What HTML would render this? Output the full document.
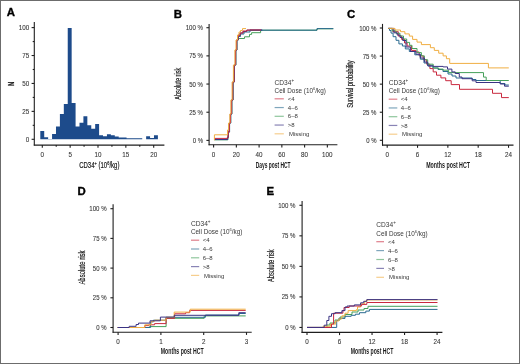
<!DOCTYPE html><html><head><meta charset="utf-8"><style>html,body{margin:0;padding:0;background:#fff;}svg{display:block;will-change:transform;}text{font-family:"Liberation Sans",sans-serif;}</style></head><body>
<svg width="520" height="364" viewBox="0 0 520 364">
<rect x="0" y="0" width="520" height="364" fill="#fff"/>
<rect x="0.5" y="0.5" width="519" height="363" fill="none" stroke="#6c6c6c" stroke-width="1"/>
<text x="6.8" y="15.8" font-size="11.4" text-anchor="start" font-weight="bold" fill="#000" stroke="#000" stroke-width="0.35">A</text>
<text x="173.8" y="17.5" font-size="11.4" text-anchor="start" font-weight="bold" fill="#000" stroke="#000" stroke-width="0.35">B</text>
<text x="346.9" y="17.6" font-size="11.4" text-anchor="start" font-weight="bold" fill="#000" stroke="#000" stroke-width="0.35">C</text>
<text x="77.5" y="195.2" font-size="11.4" text-anchor="start" font-weight="bold" fill="#000" stroke="#000" stroke-width="0.35">D</text>
<text x="266.6" y="195.0" font-size="11.4" text-anchor="start" font-weight="bold" fill="#000" stroke="#000" stroke-width="0.35">E</text>
<line x1="34.3" y1="22" x2="34.3" y2="145.6" stroke="#1e1e1e" stroke-width="1.1"/>
<line x1="33.8" y1="145.1" x2="164.4" y2="145.1" stroke="#1e1e1e" stroke-width="1.1"/>
<line x1="31.599999999999998" y1="139.3" x2="34.3" y2="139.3" stroke="#1e1e1e" stroke-width="1.1"/>
<text x="29.3" y="141.8" font-size="7" text-anchor="end" font-weight="normal" fill="#333333" textLength="3.5" lengthAdjust="spacingAndGlyphs" stroke="#333" stroke-width="0.08">0</text>
<line x1="31.599999999999998" y1="111.375" x2="34.3" y2="111.375" stroke="#1e1e1e" stroke-width="1.1"/>
<text x="29.3" y="113.875" font-size="7" text-anchor="end" font-weight="normal" fill="#333333" textLength="7.0" lengthAdjust="spacingAndGlyphs" stroke="#333" stroke-width="0.08">25</text>
<line x1="31.599999999999998" y1="83.45" x2="34.3" y2="83.45" stroke="#1e1e1e" stroke-width="1.1"/>
<text x="29.3" y="85.95" font-size="7" text-anchor="end" font-weight="normal" fill="#333333" textLength="7.0" lengthAdjust="spacingAndGlyphs" stroke="#333" stroke-width="0.08">50</text>
<line x1="31.599999999999998" y1="55.52499999999999" x2="34.3" y2="55.52499999999999" stroke="#1e1e1e" stroke-width="1.1"/>
<text x="29.3" y="58.02499999999999" font-size="7" text-anchor="end" font-weight="normal" fill="#333333" textLength="7.0" lengthAdjust="spacingAndGlyphs" stroke="#333" stroke-width="0.08">75</text>
<line x1="31.599999999999998" y1="27.599999999999994" x2="34.3" y2="27.599999999999994" stroke="#1e1e1e" stroke-width="1.1"/>
<text x="29.3" y="30.099999999999994" font-size="7" text-anchor="end" font-weight="normal" fill="#333333" textLength="10.5" lengthAdjust="spacingAndGlyphs" stroke="#333" stroke-width="0.08">100</text>
<line x1="32.699999999999996" y1="125.3375" x2="34.3" y2="125.3375" stroke="#1e1e1e" stroke-width="1.1"/>
<line x1="32.699999999999996" y1="97.4125" x2="34.3" y2="97.4125" stroke="#1e1e1e" stroke-width="1.1"/>
<line x1="32.699999999999996" y1="69.4875" x2="34.3" y2="69.4875" stroke="#1e1e1e" stroke-width="1.1"/>
<line x1="32.699999999999996" y1="41.5625" x2="34.3" y2="41.5625" stroke="#1e1e1e" stroke-width="1.1"/>
<line x1="42.3" y1="145.1" x2="42.3" y2="147.79999999999998" stroke="#1e1e1e" stroke-width="1.1"/>
<text x="42.3" y="156.9" font-size="7" text-anchor="middle" font-weight="normal" fill="#333333" textLength="3.5" lengthAdjust="spacingAndGlyphs" stroke="#333" stroke-width="0.08">0</text>
<line x1="70.15" y1="145.1" x2="70.15" y2="147.79999999999998" stroke="#1e1e1e" stroke-width="1.1"/>
<text x="70.15" y="156.9" font-size="7" text-anchor="middle" font-weight="normal" fill="#333333" textLength="3.5" lengthAdjust="spacingAndGlyphs" stroke="#333" stroke-width="0.08">5</text>
<line x1="98.0" y1="145.1" x2="98.0" y2="147.79999999999998" stroke="#1e1e1e" stroke-width="1.1"/>
<text x="98.0" y="156.9" font-size="7" text-anchor="middle" font-weight="normal" fill="#333333" textLength="7.0" lengthAdjust="spacingAndGlyphs" stroke="#333" stroke-width="0.08">10</text>
<line x1="125.85000000000001" y1="145.1" x2="125.85000000000001" y2="147.79999999999998" stroke="#1e1e1e" stroke-width="1.1"/>
<text x="125.85000000000001" y="156.9" font-size="7" text-anchor="middle" font-weight="normal" fill="#333333" textLength="7.0" lengthAdjust="spacingAndGlyphs" stroke="#333" stroke-width="0.08">15</text>
<line x1="153.7" y1="145.1" x2="153.7" y2="147.79999999999998" stroke="#1e1e1e" stroke-width="1.1"/>
<text x="153.7" y="156.9" font-size="7" text-anchor="middle" font-weight="normal" fill="#333333" textLength="7.0" lengthAdjust="spacingAndGlyphs" stroke="#333" stroke-width="0.08">20</text>
<line x1="56.224999999999994" y1="145.1" x2="56.224999999999994" y2="146.7" stroke="#1e1e1e" stroke-width="1.1"/>
<line x1="84.075" y1="145.1" x2="84.075" y2="146.7" stroke="#1e1e1e" stroke-width="1.1"/>
<line x1="111.925" y1="145.1" x2="111.925" y2="146.7" stroke="#1e1e1e" stroke-width="1.1"/>
<line x1="139.775" y1="145.1" x2="139.775" y2="146.7" stroke="#1e1e1e" stroke-width="1.1"/>
<path d="M40.30,139.30 L40.30,130.90 L44.22,130.90 L44.22,137.30 L48.14,137.30 L48.14,138.90 L52.06,138.90 L52.06,134.00 L55.98,134.00 L55.98,126.60 L59.90,126.60 L59.90,114.10 L63.82,114.10 L63.82,104.00 L67.74,104.00 L67.74,28.00 L71.66,28.00 L71.66,103.00 L75.58,103.00 L75.58,126.60 L79.50,126.60 L79.50,122.70 L83.42,122.70 L83.42,116.30 L87.34,116.30 L87.34,125.30 L91.26,125.30 L91.26,128.80 L95.18,128.80 L95.18,124.10 L99.10,124.10 L99.10,135.30 L103.02,135.30 L103.02,136.20 L106.94,136.20 L106.94,134.20 L110.86,134.20 L110.86,135.30 L114.78,135.30 L114.78,136.50 L118.70,136.50 L118.70,137.60 L122.62,137.60 L122.62,137.60 L126.54,137.60 L126.54,138.30 L130.46,138.30 L130.46,138.30 L134.38,138.30 L134.38,138.30 L138.30,138.30 L138.30,138.30 L142.22,138.30 L142.22,139.30 Z" fill="#1d4b8b"/>
<path d="M146.14,139.30 L146.14,136.20 L150.06,136.20 L150.06,138.00 L153.98,138.00 L153.98,135.30 L157.90,135.30 L157.90,139.30 Z" fill="#1d4b8b"/>
<text transform="translate(14.1,83.75) rotate(-90)" x="0" y="0" font-size="8.8" text-anchor="middle" font-weight="bold" fill="#1a1a1a" stroke="#1a1a1a" stroke-width="0.2" textLength="4.3" lengthAdjust="spacingAndGlyphs">N</text>
<text x="79.2" y="167.7" font-size="8.6" text-anchor="start" font-weight="normal" fill="#1a1a1a" textLength="40.2" lengthAdjust="spacingAndGlyphs" stroke="#1a1a1a" stroke-width="0.2">CD34<tspan font-size="5.6" dy="-3.2">+</tspan><tspan dy="3.2"> (10</tspan><tspan font-size="5.6" dy="-3.2">6</tspan><tspan dy="3.2">/kg)</tspan></text>
<line x1="209.1" y1="23.9" x2="209.1" y2="145.3" stroke="#1e1e1e" stroke-width="1.1"/>
<line x1="208.6" y1="144.8" x2="337.4" y2="144.8" stroke="#1e1e1e" stroke-width="1.1"/>
<line x1="206.4" y1="140.4" x2="209.1" y2="140.4" stroke="#1e1e1e" stroke-width="1.1"/>
<text x="203" y="142.9" font-size="7" text-anchor="end" font-weight="normal" fill="#333333" textLength="10.3" lengthAdjust="spacingAndGlyphs" stroke="#333" stroke-width="0.08">0 %</text>
<line x1="206.4" y1="112.22500000000001" x2="209.1" y2="112.22500000000001" stroke="#1e1e1e" stroke-width="1.1"/>
<text x="203" y="114.72500000000001" font-size="7" text-anchor="end" font-weight="normal" fill="#333333" textLength="13.8" lengthAdjust="spacingAndGlyphs" stroke="#333" stroke-width="0.08">25 %</text>
<line x1="206.4" y1="84.05000000000001" x2="209.1" y2="84.05000000000001" stroke="#1e1e1e" stroke-width="1.1"/>
<text x="203" y="86.55000000000001" font-size="7" text-anchor="end" font-weight="normal" fill="#333333" textLength="13.8" lengthAdjust="spacingAndGlyphs" stroke="#333" stroke-width="0.08">50 %</text>
<line x1="206.4" y1="55.875" x2="209.1" y2="55.875" stroke="#1e1e1e" stroke-width="1.1"/>
<text x="203" y="58.375" font-size="7" text-anchor="end" font-weight="normal" fill="#333333" textLength="13.8" lengthAdjust="spacingAndGlyphs" stroke="#333" stroke-width="0.08">75 %</text>
<line x1="206.4" y1="27.700000000000003" x2="209.1" y2="27.700000000000003" stroke="#1e1e1e" stroke-width="1.1"/>
<text x="203" y="30.200000000000003" font-size="7" text-anchor="end" font-weight="normal" fill="#333333" textLength="17.3" lengthAdjust="spacingAndGlyphs" stroke="#333" stroke-width="0.08">100 %</text>
<line x1="213.6" y1="144.8" x2="213.6" y2="147.5" stroke="#1e1e1e" stroke-width="1.1"/>
<text x="213.6" y="156.6" font-size="7" text-anchor="middle" font-weight="normal" fill="#333333" textLength="3.5" lengthAdjust="spacingAndGlyphs" stroke="#333" stroke-width="0.08">0</text>
<line x1="236.35" y1="144.8" x2="236.35" y2="147.5" stroke="#1e1e1e" stroke-width="1.1"/>
<text x="236.35" y="156.6" font-size="7" text-anchor="middle" font-weight="normal" fill="#333333" textLength="7.0" lengthAdjust="spacingAndGlyphs" stroke="#333" stroke-width="0.08">20</text>
<line x1="259.1" y1="144.8" x2="259.1" y2="147.5" stroke="#1e1e1e" stroke-width="1.1"/>
<text x="259.1" y="156.6" font-size="7" text-anchor="middle" font-weight="normal" fill="#333333" textLength="7.0" lengthAdjust="spacingAndGlyphs" stroke="#333" stroke-width="0.08">40</text>
<line x1="281.85" y1="144.8" x2="281.85" y2="147.5" stroke="#1e1e1e" stroke-width="1.1"/>
<text x="281.85" y="156.6" font-size="7" text-anchor="middle" font-weight="normal" fill="#333333" textLength="7.0" lengthAdjust="spacingAndGlyphs" stroke="#333" stroke-width="0.08">60</text>
<line x1="304.6" y1="144.8" x2="304.6" y2="147.5" stroke="#1e1e1e" stroke-width="1.1"/>
<text x="304.6" y="156.6" font-size="7" text-anchor="middle" font-weight="normal" fill="#333333" textLength="7.0" lengthAdjust="spacingAndGlyphs" stroke="#333" stroke-width="0.08">80</text>
<line x1="327.35" y1="144.8" x2="327.35" y2="147.5" stroke="#1e1e1e" stroke-width="1.1"/>
<text x="327.35" y="156.6" font-size="7" text-anchor="middle" font-weight="normal" fill="#333333" textLength="10.5" lengthAdjust="spacingAndGlyphs" stroke="#333" stroke-width="0.08">100</text>
<text transform="translate(181.0,83.75) rotate(-90)" x="0" y="0" font-size="8.8" text-anchor="middle" font-weight="normal" fill="#1a1a1a" stroke="#1a1a1a" stroke-width="0.2" textLength="31.9" lengthAdjust="spacingAndGlyphs">Absolute risk</text>
<text x="255.8" y="167.6" font-size="8.4" text-anchor="start" font-weight="bold" fill="#1a1a1a" textLength="34.7" lengthAdjust="spacingAndGlyphs" >Days post HCT</text>
<path d="M214.40,139.80 L227.75,139.80 L227.75,137.30 L228.35,137.30 L228.35,132.00 L229.45,132.00 L229.45,123.00 L230.65,123.00 L230.65,114.00 L231.75,114.00 L231.75,100.00 L232.95,100.00 L232.95,82.00 L234.25,82.00 L234.25,65.00 L235.75,65.00 L235.75,50.00 L236.85,50.00 L236.85,40.00 L238.20,40.00 L238.20,38.50 L244.50,38.50 L244.50,36.80 L249.50,36.80 L249.50,34.40 L251.60,34.40 L251.60,32.70 L260.60,32.70 L260.60,30.20 L317.00,30.20 L317.00,28.80 L333.30,28.80" fill="none" stroke="#45a05a" stroke-width="1.0" stroke-linejoin="miter"/>
<path d="M214.40,139.60 L227.90,139.60 L227.90,137.30 L228.50,137.30 L228.50,132.00 L229.60,132.00 L229.60,123.00 L230.80,123.00 L230.80,114.00 L231.90,114.00 L231.90,100.00 L233.10,100.00 L233.10,82.00 L234.40,82.00 L234.40,65.00 L235.90,65.00 L235.90,50.00 L237.00,50.00 L237.00,40.00 L238.50,40.00 L238.50,36.50 L240.50,36.50 L240.50,34.00 L244.00,34.00 L244.00,32.00 L250.00,32.00 L250.00,30.50 L262.30,30.50 L262.30,30.20 L317.00,30.20 L317.00,28.60 L333.30,28.60" fill="none" stroke="#2a6a90" stroke-width="1.0" stroke-linejoin="miter"/>
<path d="M214.40,139.40 L227.40,139.40 L227.40,137.30 L228.00,137.30 L228.00,132.00 L229.10,132.00 L229.10,123.00 L230.30,123.00 L230.30,114.00 L231.40,114.00 L231.40,100.00 L232.60,100.00 L232.60,82.00 L233.90,82.00 L233.90,65.00 L235.40,65.00 L235.40,50.00 L236.50,50.00 L236.50,40.00 L238.00,40.00 L238.00,35.00 L240.00,35.00 L240.00,33.00 L243.00,33.00 L243.00,31.50 L246.60,31.50 L246.60,30.20 L250.00,30.20 L250.00,29.80 L262.30,29.80" fill="none" stroke="#3a3283" stroke-width="1.0" stroke-linejoin="miter"/>
<path d="M214.40,138.40 L227.60,138.40 L227.60,137.30 L228.20,137.30 L228.20,132.00 L229.30,132.00 L229.30,123.00 L230.50,123.00 L230.50,114.00 L231.60,114.00 L231.60,100.00 L232.80,100.00 L232.80,82.00 L234.10,82.00 L234.10,65.00 L235.60,65.00 L235.60,50.00 L236.70,50.00 L236.70,40.00 L238.00,40.00 L238.00,35.50 L240.00,35.50 L240.00,33.00 L243.00,33.00 L243.00,31.00 L247.00,31.00 L247.00,30.00 L261.00,30.00" fill="none" stroke="#c9283e" stroke-width="1.0" stroke-linejoin="miter"/>
<path d="M214.40,140.30 L214.40,140.30 L214.40,134.80 L227.30,134.80 L227.50,134.80 L227.50,130.00 L228.60,130.00 L228.60,123.00 L229.80,123.00 L229.80,114.00 L230.90,114.00 L230.90,100.00 L232.10,100.00 L232.10,82.00 L233.40,82.00 L233.40,65.00 L234.90,65.00 L234.90,50.00 L236.00,50.00 L236.00,40.00 L237.50,40.00 L237.50,35.00 L239.00,35.00 L239.00,32.00 L240.50,32.00 L240.50,30.50 L242.50,30.50 L242.50,28.60 L246.00,28.60" fill="none" stroke="#f0ae42" stroke-width="1.0" stroke-linejoin="miter"/>
<text x="274.6" y="84.5" font-size="6.6" text-anchor="start" font-weight="normal" fill="#383838" >CD34<tspan font-size="4.6" dy="-3.0">+</tspan></text>
<text x="274.6" y="92.6" font-size="6.6" text-anchor="start" font-weight="normal" fill="#383838" textLength="51.3" lengthAdjust="spacingAndGlyphs" >Cell Dose (10<tspan font-size="4.2" dy="-2.6">6</tspan><tspan dy="2.6">/kg)</tspan></text>
<line x1="274.6" y1="98.8" x2="283.8" y2="98.8" stroke="#c9283e" stroke-width="1.2" stroke-opacity="0.6"/>
<text x="287.8" y="100.89999999999999" font-size="6.0" text-anchor="start" font-weight="normal" fill="#383838" >&lt;4</text>
<line x1="274.6" y1="107.55" x2="283.8" y2="107.55" stroke="#2a6a90" stroke-width="1.2" stroke-opacity="0.6"/>
<text x="287.8" y="109.64999999999999" font-size="6.0" text-anchor="start" font-weight="normal" fill="#383838" >4–6</text>
<line x1="274.6" y1="116.3" x2="283.8" y2="116.3" stroke="#45a05a" stroke-width="1.2" stroke-opacity="0.6"/>
<text x="287.8" y="118.39999999999999" font-size="6.0" text-anchor="start" font-weight="normal" fill="#383838" >6–8</text>
<line x1="274.6" y1="125.05" x2="283.8" y2="125.05" stroke="#3a3283" stroke-width="1.2" stroke-opacity="0.6"/>
<text x="287.8" y="127.14999999999999" font-size="6.0" text-anchor="start" font-weight="normal" fill="#383838" >&gt;8</text>
<line x1="274.6" y1="133.8" x2="283.8" y2="133.8" stroke="#f0ae42" stroke-width="1.2" stroke-opacity="0.6"/>
<text x="289.0" y="135.9" font-size="6.0" text-anchor="start" font-weight="normal" fill="#383838" >Missing</text>
<line x1="382.5" y1="23.9" x2="382.5" y2="145.6" stroke="#1e1e1e" stroke-width="1.1"/>
<line x1="382.0" y1="145.1" x2="513.5" y2="145.1" stroke="#1e1e1e" stroke-width="1.1"/>
<line x1="379.8" y1="140.3" x2="382.5" y2="140.3" stroke="#1e1e1e" stroke-width="1.1"/>
<text x="376.5" y="142.8" font-size="7" text-anchor="end" font-weight="normal" fill="#333333" textLength="10.3" lengthAdjust="spacingAndGlyphs" stroke="#333" stroke-width="0.08">0 %</text>
<line x1="379.8" y1="112.22500000000001" x2="382.5" y2="112.22500000000001" stroke="#1e1e1e" stroke-width="1.1"/>
<text x="376.5" y="114.72500000000001" font-size="7" text-anchor="end" font-weight="normal" fill="#333333" textLength="13.8" lengthAdjust="spacingAndGlyphs" stroke="#333" stroke-width="0.08">25 %</text>
<line x1="379.8" y1="84.15" x2="382.5" y2="84.15" stroke="#1e1e1e" stroke-width="1.1"/>
<text x="376.5" y="86.65" font-size="7" text-anchor="end" font-weight="normal" fill="#333333" textLength="13.8" lengthAdjust="spacingAndGlyphs" stroke="#333" stroke-width="0.08">50 %</text>
<line x1="379.8" y1="56.07500000000002" x2="382.5" y2="56.07500000000002" stroke="#1e1e1e" stroke-width="1.1"/>
<text x="376.5" y="58.57500000000002" font-size="7" text-anchor="end" font-weight="normal" fill="#333333" textLength="13.8" lengthAdjust="spacingAndGlyphs" stroke="#333" stroke-width="0.08">75 %</text>
<line x1="379.8" y1="28.0" x2="382.5" y2="28.0" stroke="#1e1e1e" stroke-width="1.1"/>
<text x="376.5" y="30.5" font-size="7" text-anchor="end" font-weight="normal" fill="#333333" textLength="17.3" lengthAdjust="spacingAndGlyphs" stroke="#333" stroke-width="0.08">100 %</text>
<line x1="387.2" y1="145.1" x2="387.2" y2="147.79999999999998" stroke="#1e1e1e" stroke-width="1.1"/>
<text x="387.2" y="156.7" font-size="7" text-anchor="middle" font-weight="normal" fill="#333333" textLength="3.5" lengthAdjust="spacingAndGlyphs" stroke="#333" stroke-width="0.08">0</text>
<line x1="417.53" y1="145.1" x2="417.53" y2="147.79999999999998" stroke="#1e1e1e" stroke-width="1.1"/>
<text x="417.53" y="156.7" font-size="7" text-anchor="middle" font-weight="normal" fill="#333333" textLength="3.5" lengthAdjust="spacingAndGlyphs" stroke="#333" stroke-width="0.08">6</text>
<line x1="447.86" y1="145.1" x2="447.86" y2="147.79999999999998" stroke="#1e1e1e" stroke-width="1.1"/>
<text x="447.86" y="156.7" font-size="7" text-anchor="middle" font-weight="normal" fill="#333333" textLength="7.0" lengthAdjust="spacingAndGlyphs" stroke="#333" stroke-width="0.08">12</text>
<line x1="478.19" y1="145.1" x2="478.19" y2="147.79999999999998" stroke="#1e1e1e" stroke-width="1.1"/>
<text x="478.19" y="156.7" font-size="7" text-anchor="middle" font-weight="normal" fill="#333333" textLength="7.0" lengthAdjust="spacingAndGlyphs" stroke="#333" stroke-width="0.08">18</text>
<line x1="508.52" y1="145.1" x2="508.52" y2="147.79999999999998" stroke="#1e1e1e" stroke-width="1.1"/>
<text x="508.52" y="156.7" font-size="7" text-anchor="middle" font-weight="normal" fill="#333333" textLength="7.0" lengthAdjust="spacingAndGlyphs" stroke="#333" stroke-width="0.08">24</text>
<text transform="translate(353.4,84.1) rotate(-90)" x="0" y="0" font-size="8.4" text-anchor="middle" font-weight="normal" fill="#1a1a1a" stroke="#1a1a1a" stroke-width="0.2" textLength="47.5" lengthAdjust="spacingAndGlyphs">Survival probability</text>
<text x="426.2" y="167.5" font-size="8.6" text-anchor="start" font-weight="bold" fill="#1a1a1a" textLength="43.8" lengthAdjust="spacingAndGlyphs" >Months post HCT</text>
<path d="M388.40,28.40 L392.80,28.40 L392.80,31.70 L398.30,31.70 L398.30,36.10 L401.60,36.10 L401.60,39.40 L404.50,39.40 L404.50,43.00 L407.10,43.00 L407.10,46.00 L411.50,46.00 L411.50,50.40 L415.90,50.40 L415.90,52.00 L419.20,52.00 L419.20,55.90 L423.30,55.90 L423.30,59.80 L426.60,59.80 L426.60,64.20 L429.90,64.20 L429.90,68.60 L433.20,68.60 L433.20,71.90 L436.50,71.90 L436.50,75.20 L440.90,75.20 L440.90,77.90 L445.70,77.90 L445.70,80.70 L451.20,80.70 L451.20,84.60 L459.50,84.60 L459.50,89.30 L492.50,89.30 L492.50,93.30 L501.50,93.30 L501.50,97.60 L508.80,97.60" fill="none" stroke="#c9283e" stroke-width="1.0" stroke-linejoin="miter"/>
<path d="M388.40,28.40 L389.50,28.40 L389.50,30.50 L391.00,30.50 L391.00,33.10 L393.10,33.10 L393.10,36.70 L396.00,36.70 L396.00,40.30 L398.90,40.30 L398.90,43.90 L402.40,43.90 L402.40,46.00 L405.30,46.00 L405.30,48.90 L409.30,48.90 L409.30,51.50 L414.80,51.50 L414.80,54.80 L420.30,54.80 L420.30,59.20 L424.00,59.20 L424.00,63.00 L428.00,63.00 L428.00,66.00 L433.00,66.00 L433.00,68.00 L438.00,68.00 L438.00,69.50 L443.00,69.50 L443.00,71.50 L448.00,71.50 L448.00,74.00 L452.00,74.00 L452.00,76.00 L456.00,76.00 L456.00,78.00 L472.20,78.00 L472.20,79.50 L476.00,79.50 L476.00,80.50 L500.20,80.50 L500.20,83.50 L505.00,83.50 L505.00,85.00 L508.80,85.00" fill="none" stroke="#2a6a90" stroke-width="1.0" stroke-linejoin="miter"/>
<path d="M388.40,28.40 L392.00,28.40 L392.00,30.80 L396.00,30.80 L396.00,33.30 L400.00,33.30 L400.00,36.00 L403.50,36.00 L403.50,39.00 L406.70,39.00 L406.70,42.40 L409.60,42.40 L409.60,45.30 L412.00,45.30 L412.00,48.50 L417.00,48.50 L417.00,52.60 L421.40,52.60 L421.40,55.90 L424.40,55.90 L424.40,59.80 L427.70,59.80 L427.70,64.20 L433.20,64.20 L433.20,68.00 L438.70,68.00 L438.70,69.10 L443.10,69.10 L443.10,70.20 L448.60,70.20 L448.60,72.60 L483.50,72.60 L483.50,77.10 L486.20,77.10 L486.20,80.50 L508.80,80.50" fill="none" stroke="#45a05a" stroke-width="1.0" stroke-linejoin="miter"/>
<path d="M388.40,28.40 L393.90,28.40 L393.90,32.80 L397.20,32.80 L397.20,35.00 L400.00,35.00 L400.00,37.50 L402.70,37.50 L402.70,40.50 L406.00,40.50 L406.00,47.00 L410.40,47.00 L410.40,51.50 L415.90,51.50 L415.90,54.20 L420.30,54.20 L420.30,58.00 L424.40,58.00 L424.40,62.00 L427.70,62.00 L427.70,65.80 L433.20,65.80 L433.20,66.40 L443.10,66.40 L443.10,66.90 L447.50,66.90 L447.50,69.10 L451.90,69.10 L451.90,71.90 L455.20,71.90 L455.20,73.50 L459.30,73.50 L459.30,77.00 L462.00,77.00 L462.00,78.70 L472.20,78.70 L472.20,80.80 L476.00,80.80 L476.00,82.50 L500.20,82.50 L500.20,84.00 L504.50,84.00 L504.50,86.20 L508.80,86.20" fill="none" stroke="#3a3283" stroke-width="1.0" stroke-linejoin="miter"/>
<path d="M388.40,28.40 L395.00,28.40 L395.00,30.00 L400.50,30.00 L400.50,31.70 L404.90,31.70 L404.90,33.90 L409.30,33.90 L409.30,36.10 L412.60,36.10 L412.60,39.40 L417.00,39.40 L417.00,42.10 L421.40,42.10 L421.40,44.60 L430.40,44.60 L430.40,47.70 L434.30,47.70 L434.30,50.40 L438.70,50.40 L438.70,53.20 L443.10,53.20 L443.10,55.90 L446.40,55.90 L446.40,58.70 L449.70,58.70 L449.70,63.40 L488.40,63.40 L488.40,67.90 L508.80,67.90" fill="none" stroke="#f0ae42" stroke-width="1.0" stroke-linejoin="miter"/>
<text x="388.7" y="84.9" font-size="6.6" text-anchor="start" font-weight="normal" fill="#383838" >CD34<tspan font-size="4.6" dy="-3.0">+</tspan></text>
<text x="388.7" y="93.0" font-size="6.6" text-anchor="start" font-weight="normal" fill="#383838" textLength="51.3" lengthAdjust="spacingAndGlyphs" >Cell Dose (10<tspan font-size="4.2" dy="-2.6">6</tspan><tspan dy="2.6">/kg)</tspan></text>
<line x1="388.7" y1="99.2" x2="397.3" y2="99.2" stroke="#c9283e" stroke-width="1.2" stroke-opacity="0.6"/>
<text x="400.8" y="101.3" font-size="6.0" text-anchor="start" font-weight="normal" fill="#383838" >&lt;4</text>
<line x1="388.7" y1="107.95" x2="397.3" y2="107.95" stroke="#2a6a90" stroke-width="1.2" stroke-opacity="0.6"/>
<text x="400.8" y="110.05" font-size="6.0" text-anchor="start" font-weight="normal" fill="#383838" >4–6</text>
<line x1="388.7" y1="116.7" x2="397.3" y2="116.7" stroke="#45a05a" stroke-width="1.2" stroke-opacity="0.6"/>
<text x="400.8" y="118.8" font-size="6.0" text-anchor="start" font-weight="normal" fill="#383838" >6–8</text>
<line x1="388.7" y1="125.45" x2="397.3" y2="125.45" stroke="#3a3283" stroke-width="1.2" stroke-opacity="0.6"/>
<text x="400.8" y="127.55" font-size="6.0" text-anchor="start" font-weight="normal" fill="#383838" >&gt;8</text>
<line x1="388.7" y1="134.2" x2="397.3" y2="134.2" stroke="#f0ae42" stroke-width="1.2" stroke-opacity="0.6"/>
<text x="402.0" y="136.29999999999998" font-size="6.0" text-anchor="start" font-weight="normal" fill="#383838" >Missing</text>
<line x1="113.1" y1="204.2" x2="113.1" y2="332.7" stroke="#1e1e1e" stroke-width="1.1"/>
<line x1="112.6" y1="332.2" x2="251.7" y2="332.2" stroke="#1e1e1e" stroke-width="1.1"/>
<line x1="110.39999999999999" y1="327.5" x2="113.1" y2="327.5" stroke="#1e1e1e" stroke-width="1.1"/>
<text x="106.6" y="330.0" font-size="7" text-anchor="end" font-weight="normal" fill="#333333" textLength="10.3" lengthAdjust="spacingAndGlyphs" stroke="#333" stroke-width="0.08">0 %</text>
<line x1="110.39999999999999" y1="297.8" x2="113.1" y2="297.8" stroke="#1e1e1e" stroke-width="1.1"/>
<text x="106.6" y="300.3" font-size="7" text-anchor="end" font-weight="normal" fill="#333333" textLength="13.8" lengthAdjust="spacingAndGlyphs" stroke="#333" stroke-width="0.08">25 %</text>
<line x1="110.39999999999999" y1="268.1" x2="113.1" y2="268.1" stroke="#1e1e1e" stroke-width="1.1"/>
<text x="106.6" y="270.6" font-size="7" text-anchor="end" font-weight="normal" fill="#333333" textLength="13.8" lengthAdjust="spacingAndGlyphs" stroke="#333" stroke-width="0.08">50 %</text>
<line x1="110.39999999999999" y1="238.4" x2="113.1" y2="238.4" stroke="#1e1e1e" stroke-width="1.1"/>
<text x="106.6" y="240.9" font-size="7" text-anchor="end" font-weight="normal" fill="#333333" textLength="13.8" lengthAdjust="spacingAndGlyphs" stroke="#333" stroke-width="0.08">75 %</text>
<line x1="110.39999999999999" y1="208.7" x2="113.1" y2="208.7" stroke="#1e1e1e" stroke-width="1.1"/>
<text x="106.6" y="211.2" font-size="7" text-anchor="end" font-weight="normal" fill="#333333" textLength="17.3" lengthAdjust="spacingAndGlyphs" stroke="#333" stroke-width="0.08">100 %</text>
<line x1="118.1" y1="332.2" x2="118.1" y2="334.9" stroke="#1e1e1e" stroke-width="1.1"/>
<text x="118.1" y="343.8" font-size="7" text-anchor="middle" font-weight="normal" fill="#333333" textLength="3.5" lengthAdjust="spacingAndGlyphs" stroke="#333" stroke-width="0.08">0</text>
<line x1="160.89999999999998" y1="332.2" x2="160.89999999999998" y2="334.9" stroke="#1e1e1e" stroke-width="1.1"/>
<text x="160.89999999999998" y="343.8" font-size="7" text-anchor="middle" font-weight="normal" fill="#333333" textLength="3.5" lengthAdjust="spacingAndGlyphs" stroke="#333" stroke-width="0.08">1</text>
<line x1="203.7" y1="332.2" x2="203.7" y2="334.9" stroke="#1e1e1e" stroke-width="1.1"/>
<text x="203.7" y="343.8" font-size="7" text-anchor="middle" font-weight="normal" fill="#333333" textLength="3.5" lengthAdjust="spacingAndGlyphs" stroke="#333" stroke-width="0.08">2</text>
<line x1="246.49999999999997" y1="332.2" x2="246.49999999999997" y2="334.9" stroke="#1e1e1e" stroke-width="1.1"/>
<text x="246.49999999999997" y="343.8" font-size="7" text-anchor="middle" font-weight="normal" fill="#333333" textLength="3.5" lengthAdjust="spacingAndGlyphs" stroke="#333" stroke-width="0.08">3</text>
<text transform="translate(84.6,267.6) rotate(-90)" x="0" y="0" font-size="8.8" text-anchor="middle" font-weight="normal" fill="#1a1a1a" stroke="#1a1a1a" stroke-width="0.2" textLength="34.0" lengthAdjust="spacingAndGlyphs">Absolute risk</text>
<text x="160.8" y="354.4" font-size="8.6" text-anchor="start" font-weight="bold" fill="#1a1a1a" textLength="42.9" lengthAdjust="spacingAndGlyphs" >Months post HCT</text>
<path d="M117.70,327.50 L149.40,327.50 L149.40,326.60 L166.10,326.60 L166.10,318.30 L204.20,318.30 L204.20,315.90 L245.70,315.90" fill="none" stroke="#45a05a" stroke-width="1.0" stroke-linejoin="miter"/>
<path d="M117.70,327.50 L150.60,327.50 L150.60,321.90 L153.40,321.90 L153.40,320.20 L166.00,320.20 L166.00,317.30 L205.40,317.30 L205.40,315.00 L239.00,315.00 L239.00,313.50 L245.70,313.50" fill="none" stroke="#2a6a90" stroke-width="1.0" stroke-linejoin="miter"/>
<path d="M117.70,327.50 L144.80,327.50 L144.80,325.60 L148.80,325.60 L148.80,324.80 L154.60,324.80 L154.60,323.60 L166.10,323.60 L166.10,318.30 L174.60,318.30 L174.60,313.80 L185.60,313.80 L185.60,312.70 L189.60,312.70 L189.60,310.40 L245.70,310.40" fill="none" stroke="#c9283e" stroke-width="1.0" stroke-linejoin="miter"/>
<path d="M117.70,327.50 L144.80,327.50 L144.80,324.80 L151.10,324.80 L151.10,321.30 L154.60,321.30 L154.60,320.20 L166.10,320.20 L166.10,317.30 L174.20,317.30 L174.20,312.10 L190.20,312.10 L190.20,309.20 L245.70,309.20" fill="none" stroke="#f0ae42" stroke-width="1.0" stroke-linejoin="miter"/>
<path d="M117.70,327.50 L129.20,327.50 L129.20,326.30 L136.10,326.30 L136.10,324.50 L138.50,324.50 L138.50,323.10 L150.00,323.10 L150.00,320.80 L160.40,320.80 L160.40,317.10 L174.20,317.10 L174.20,315.30 L238.80,315.30 L238.80,312.70 L245.70,312.70" fill="none" stroke="#3a3283" stroke-width="1.0" stroke-linejoin="miter"/>
<text x="191" y="225.9" font-size="6.6" text-anchor="start" font-weight="normal" fill="#383838" >CD34<tspan font-size="4.6" dy="-3.0">+</tspan></text>
<text x="191" y="234.0" font-size="6.6" text-anchor="start" font-weight="normal" fill="#383838" textLength="51.3" lengthAdjust="spacingAndGlyphs" >Cell Dose (10<tspan font-size="4.2" dy="-2.6">6</tspan><tspan dy="2.6">/kg)</tspan></text>
<line x1="191" y1="240.2" x2="199.2" y2="240.2" stroke="#c9283e" stroke-width="1.2" stroke-opacity="0.6"/>
<text x="202.7" y="242.29999999999998" font-size="6.0" text-anchor="start" font-weight="normal" fill="#383838" >&lt;4</text>
<line x1="191" y1="249.0" x2="199.2" y2="249.0" stroke="#2a6a90" stroke-width="1.2" stroke-opacity="0.6"/>
<text x="202.7" y="251.1" font-size="6.0" text-anchor="start" font-weight="normal" fill="#383838" >4–6</text>
<line x1="191" y1="257.8" x2="199.2" y2="257.8" stroke="#45a05a" stroke-width="1.2" stroke-opacity="0.6"/>
<text x="202.7" y="259.90000000000003" font-size="6.0" text-anchor="start" font-weight="normal" fill="#383838" >6–8</text>
<line x1="191" y1="266.59999999999997" x2="199.2" y2="266.59999999999997" stroke="#3a3283" stroke-width="1.2" stroke-opacity="0.6"/>
<text x="202.7" y="268.7" font-size="6.0" text-anchor="start" font-weight="normal" fill="#383838" >&gt;8</text>
<line x1="191" y1="275.4" x2="199.2" y2="275.4" stroke="#f0ae42" stroke-width="1.2" stroke-opacity="0.6"/>
<text x="203.89999999999998" y="277.5" font-size="6.0" text-anchor="start" font-weight="normal" fill="#383838" >Missing</text>
<line x1="302.1" y1="200.9" x2="302.1" y2="332.9" stroke="#1e1e1e" stroke-width="1.1"/>
<line x1="301.6" y1="332.4" x2="442.4" y2="332.4" stroke="#1e1e1e" stroke-width="1.1"/>
<line x1="299.40000000000003" y1="327.45" x2="302.1" y2="327.45" stroke="#1e1e1e" stroke-width="1.1"/>
<text x="295.5" y="329.95" font-size="7" text-anchor="end" font-weight="normal" fill="#333333" textLength="10.3" lengthAdjust="spacingAndGlyphs" stroke="#333" stroke-width="0.08">0 %</text>
<line x1="299.40000000000003" y1="296.9125" x2="302.1" y2="296.9125" stroke="#1e1e1e" stroke-width="1.1"/>
<text x="295.5" y="299.4125" font-size="7" text-anchor="end" font-weight="normal" fill="#333333" textLength="13.8" lengthAdjust="spacingAndGlyphs" stroke="#333" stroke-width="0.08">25 %</text>
<line x1="299.40000000000003" y1="266.375" x2="302.1" y2="266.375" stroke="#1e1e1e" stroke-width="1.1"/>
<text x="295.5" y="268.875" font-size="7" text-anchor="end" font-weight="normal" fill="#333333" textLength="13.8" lengthAdjust="spacingAndGlyphs" stroke="#333" stroke-width="0.08">50 %</text>
<line x1="299.40000000000003" y1="235.8375" x2="302.1" y2="235.8375" stroke="#1e1e1e" stroke-width="1.1"/>
<text x="295.5" y="238.3375" font-size="7" text-anchor="end" font-weight="normal" fill="#333333" textLength="13.8" lengthAdjust="spacingAndGlyphs" stroke="#333" stroke-width="0.08">75 %</text>
<line x1="299.40000000000003" y1="205.3" x2="302.1" y2="205.3" stroke="#1e1e1e" stroke-width="1.1"/>
<text x="295.5" y="207.8" font-size="7" text-anchor="end" font-weight="normal" fill="#333333" textLength="17.3" lengthAdjust="spacingAndGlyphs" stroke="#333" stroke-width="0.08">100 %</text>
<line x1="307.0" y1="332.4" x2="307.0" y2="335.09999999999997" stroke="#1e1e1e" stroke-width="1.1"/>
<text x="307.0" y="343.8" font-size="7" text-anchor="middle" font-weight="normal" fill="#333333" textLength="3.5" lengthAdjust="spacingAndGlyphs" stroke="#333" stroke-width="0.08">0</text>
<line x1="339.52" y1="332.4" x2="339.52" y2="335.09999999999997" stroke="#1e1e1e" stroke-width="1.1"/>
<text x="339.52" y="343.8" font-size="7" text-anchor="middle" font-weight="normal" fill="#333333" textLength="3.5" lengthAdjust="spacingAndGlyphs" stroke="#333" stroke-width="0.08">6</text>
<line x1="372.03999999999996" y1="332.4" x2="372.03999999999996" y2="335.09999999999997" stroke="#1e1e1e" stroke-width="1.1"/>
<text x="372.03999999999996" y="343.8" font-size="7" text-anchor="middle" font-weight="normal" fill="#333333" textLength="7.0" lengthAdjust="spacingAndGlyphs" stroke="#333" stroke-width="0.08">12</text>
<line x1="404.56" y1="332.4" x2="404.56" y2="335.09999999999997" stroke="#1e1e1e" stroke-width="1.1"/>
<text x="404.56" y="343.8" font-size="7" text-anchor="middle" font-weight="normal" fill="#333333" textLength="7.0" lengthAdjust="spacingAndGlyphs" stroke="#333" stroke-width="0.08">18</text>
<line x1="437.08" y1="332.4" x2="437.08" y2="335.09999999999997" stroke="#1e1e1e" stroke-width="1.1"/>
<text x="437.08" y="343.8" font-size="7" text-anchor="middle" font-weight="normal" fill="#333333" textLength="7.0" lengthAdjust="spacingAndGlyphs" stroke="#333" stroke-width="0.08">24</text>
<text transform="translate(273.8,265.7) rotate(-90)" x="0" y="0" font-size="8.8" text-anchor="middle" font-weight="normal" fill="#1a1a1a" stroke="#1a1a1a" stroke-width="0.2" textLength="32.8" lengthAdjust="spacingAndGlyphs">Absolute risk</text>
<text x="350.8" y="354.4" font-size="8.6" text-anchor="start" font-weight="bold" fill="#1a1a1a" textLength="42.6" lengthAdjust="spacingAndGlyphs" >Months post HCT</text>
<path d="M307.00,327.45 L327.00,327.45 L327.00,325.00 L330.00,325.00 L330.00,323.00 L335.00,323.00 L335.00,320.00 L340.00,320.00 L340.00,317.00 L345.00,317.00 L345.00,314.50 L352.00,314.50 L352.00,312.00 L358.00,312.00 L358.00,310.00 L364.00,310.00 L364.00,308.50 L368.00,308.50 L368.00,306.30 L437.50,306.30" fill="none" stroke="#45a05a" stroke-width="1.0" stroke-linejoin="miter"/>
<path d="M307.00,327.45 L336.70,327.45 L336.70,320.50 L338.80,320.50 L338.80,318.40 L345.00,318.40 L345.00,316.30 L351.20,316.30 L351.20,315.30 L355.40,315.30 L355.40,314.20 L359.50,314.20 L359.50,312.70 L365.80,312.70 L365.80,311.10 L369.40,311.10 L369.40,309.40 L437.50,309.40" fill="none" stroke="#2a6a90" stroke-width="1.0" stroke-linejoin="miter"/>
<path d="M307.00,327.45 L323.20,327.45 L323.20,326.20 L330.50,326.20 L330.50,324.10 L335.70,324.10 L335.70,321.00 L338.80,321.00 L338.80,318.90 L341.90,318.90 L341.90,315.80 L345.00,315.80 L345.00,313.20 L348.10,313.20 L348.10,310.60 L356.40,310.60 L356.40,309.60 L357.50,309.60 L357.50,307.00 L360.60,307.00 L360.60,303.90 L364.70,303.90 L364.70,301.30 L366.80,301.30 L366.80,299.90 L437.50,299.90" fill="none" stroke="#f0ae42" stroke-width="1.0" stroke-linejoin="miter"/>
<path d="M307.00,327.45 L331.50,327.45 L331.50,324.10 L333.60,324.10 L333.60,313.20 L342.90,313.20 L342.90,310.60 L344.00,310.60 L344.00,307.50 L349.20,307.50 L349.20,306.00 L361.60,306.00 L361.60,304.40 L366.80,304.40 L366.80,302.50 L437.50,302.50" fill="none" stroke="#c9283e" stroke-width="1.0" stroke-linejoin="miter"/>
<path d="M307.00,327.45 L324.20,327.45 L324.20,325.20 L326.80,325.20 L326.80,320.50 L328.90,320.50 L328.90,316.30 L331.50,316.30 L331.50,313.70 L335.10,313.70 L335.10,312.70 L341.90,312.70 L341.90,310.60 L345.00,310.60 L345.00,307.00 L347.10,307.00 L347.10,306.00 L354.30,306.00 L354.30,304.90 L360.60,304.90 L360.60,302.80 L363.70,302.80 L363.70,301.30 L366.80,301.30 L366.80,299.60 L437.50,299.60" fill="none" stroke="#3a3283" stroke-width="1.0" stroke-linejoin="miter"/>
<text x="376.3" y="227.4" font-size="6.6" text-anchor="start" font-weight="normal" fill="#383838" >CD34<tspan font-size="4.6" dy="-3.0">+</tspan></text>
<text x="376.3" y="235.5" font-size="6.6" text-anchor="start" font-weight="normal" fill="#383838" textLength="51.3" lengthAdjust="spacingAndGlyphs" >Cell Dose (10<tspan font-size="4.2" dy="-2.6">6</tspan><tspan dy="2.6">/kg)</tspan></text>
<line x1="376.3" y1="241.7" x2="384.0" y2="241.7" stroke="#c9283e" stroke-width="1.2" stroke-opacity="0.6"/>
<text x="387.9" y="243.79999999999998" font-size="6.0" text-anchor="start" font-weight="normal" fill="#383838" >&lt;4</text>
<line x1="376.3" y1="250.6" x2="384.0" y2="250.6" stroke="#2a6a90" stroke-width="1.2" stroke-opacity="0.6"/>
<text x="387.9" y="252.7" font-size="6.0" text-anchor="start" font-weight="normal" fill="#383838" >4–6</text>
<line x1="376.3" y1="259.5" x2="384.0" y2="259.5" stroke="#45a05a" stroke-width="1.2" stroke-opacity="0.6"/>
<text x="387.9" y="261.6" font-size="6.0" text-anchor="start" font-weight="normal" fill="#383838" >6–8</text>
<line x1="376.3" y1="268.4" x2="384.0" y2="268.4" stroke="#3a3283" stroke-width="1.2" stroke-opacity="0.6"/>
<text x="387.9" y="270.5" font-size="6.0" text-anchor="start" font-weight="normal" fill="#383838" >&gt;8</text>
<line x1="376.3" y1="277.3" x2="384.0" y2="277.3" stroke="#f0ae42" stroke-width="1.2" stroke-opacity="0.6"/>
<text x="389.09999999999997" y="279.40000000000003" font-size="6.0" text-anchor="start" font-weight="normal" fill="#383838" >Missing</text>
</svg></body></html>
